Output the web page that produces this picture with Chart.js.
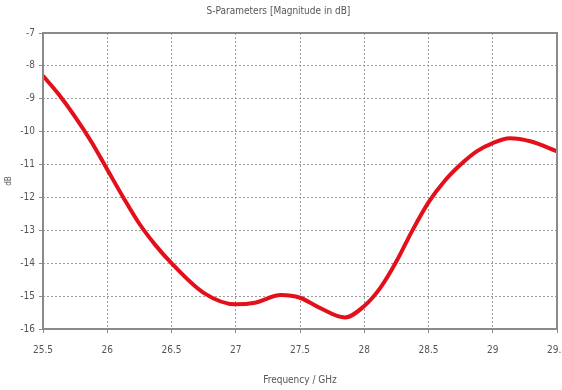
<!DOCTYPE html>
<html>
<head>
<meta charset="utf-8">
<script src="https://cdn.jsdelivr.net/npm/chart.js@4"></script>
<style>
  html, body { margin: 0; padding: 0; background: #fff; }
  #wrap { width: 562px; height: 390px; }
</style>
</head>
<body>
<div id="wrap"><canvas id="myChart" width="562" height="390"></canvas></div>
<script>
// frequency points (GHz) and S11 magnitude (dB)
const freqs = [25.5, 25.625, 25.75, 25.875, 26, 26.125, 26.25, 26.375, 26.5, 26.75, 27, 27.15, 27.35, 27.5, 27.65, 27.85, 28, 28.125, 28.25, 28.375, 28.5, 28.625, 28.75, 28.875, 29, 29.13, 29.3, 29.5];
const sMag = [-8.3, -8.88, -9.55, -10.3, -11.15, -12.0, -12.8, -13.45, -14.0, -14.9, -15.25, -15.2, -14.97, -15.05, -15.35, -15.65, -15.3, -14.75, -13.95, -13.0, -12.15, -11.5, -11.0, -10.6, -10.35, -10.2, -10.3, -10.6];
const yTicks = [-7, -8, -9, -10, -11, -12, -13, -14, -15, -16];
const xTicks = [25.5, 26, 26.5, 27, 27.5, 28, 28.5, 29, 29.5];

const FONT = "'Liberation Sans Narrow', 'DejaVu Sans Condensed', 'Liberation Sans', sans-serif";
const txt = "#555";

// solid frame round the plot area
const frame = {
  id: "frame",
  afterDraw(chart) {
    const a = chart.chartArea;
    const c = chart.ctx;
    c.save();
    c.strokeStyle = "#8a8a8a";
    c.lineWidth = 2;
    c.strokeRect(a.left, a.top, a.right - a.left, a.bottom - a.top);
    c.restore();
  },
};

const ctx = document.getElementById("myChart");
const myChart = new Chart(ctx, {
  type: "line",
  data: {
    datasets: [
      {
        data: freqs.map((f, i) => ({ x: f, y: sMag[i] })),
        borderColor: "#e3101c",
        borderWidth: 4,
        pointRadius: 0,
        cubicInterpolationMode: "monotone",
        fill: false,
      },
    ],
  },
  options: {
    responsive: false,
    animation: false,
    layout: { padding: { left: 0, right: 5, top: 0, bottom: 0 } },
    plugins: {
      legend: { display: false },
      tooltip: { enabled: false },
      title: {
        display: true,
        text: "S-Parameters [Magnitude in dB]",
        color: txt,
        font: { family: FONT, size: 10, weight: "normal" },
        padding: { top: 5, bottom: 16 },
      },
    },
    scales: {
      x: {
        type: "linear",
        min: 25.5,
        max: 29.5,
        afterBuildTicks: (s) => { s.ticks = xTicks.map((v) => ({ value: v })); },
        afterFit: (s) => { s.height = 61; s.paddingRight = 0; s.paddingLeft = 0; },
        ticks: {
          color: txt,
          font: { family: FONT, size: 10 },
          maxRotation: 0,
          padding: 11,
          callback: (v) => String(v),
        },
        grid: {
          color: "#9a9a9a",
          tickColor: "#8a8a8a",
          tickLength: 4,
          lineWidth: 1,
        },
        border: { display: false, dash: [2, 2] },
        title: {
          display: true,
          text: "Frequency / GHz",
          color: txt,
          font: { family: FONT, size: 10 },
          padding: { top: 6 },
        },
      },
      y: {
        min: -16,
        max: -7,
        afterBuildTicks: (s) => { s.ticks = yTicks.map((v) => ({ value: v })); },
        afterFit: (s) => { s.width = 43; s.paddingTop = 0; s.paddingBottom = 0; },
        ticks: {
          color: txt,
          font: { family: FONT, size: 10 },
          padding: 4,
        },
        grid: {
          color: "#9a9a9a",
          tickColor: "#8a8a8a",
          tickLength: 4,
          lineWidth: 1,
        },
        border: { display: false, dash: [2, 2] },
        title: {
          display: true,
          text: "dB",
          color: txt,
          font: { family: FONT, size: 8 },
          padding: { bottom: 2 },
        },
      },
    },
  },
  plugins: [frame],
});
</script>
</body>
</html>
